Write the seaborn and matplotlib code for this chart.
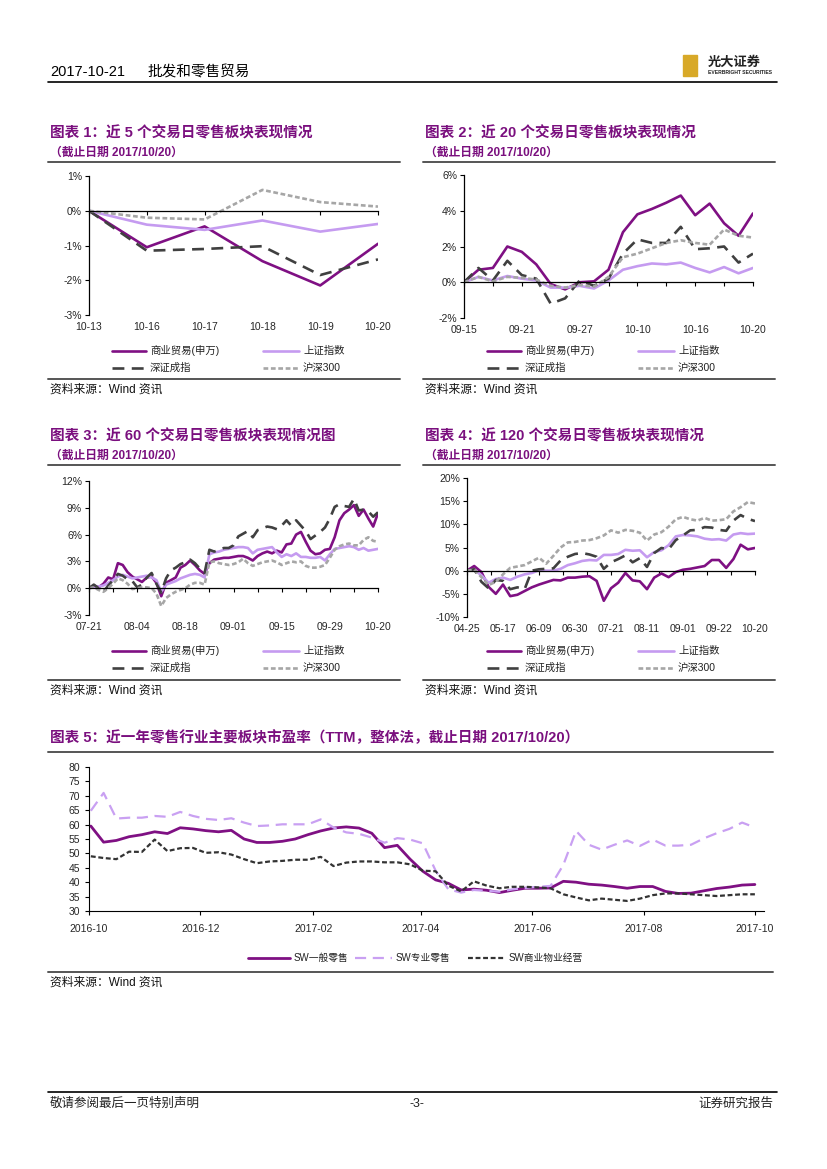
import numpy as np
import pandas as pd
import matplotlib
matplotlib.use('Agg')
import matplotlib.pyplot as plt
import seaborn as sns
from matplotlib.lines import Line2D
from matplotlib.patches import Rectangle

# ---------------- data ----------------
NAMES = ['商业贸易(申万)', '上证指数', '深证成指', '沪深300']

# chart 1: last 5 trading days
c1_dates = ['10-13', '10-16', '10-17', '10-18', '10-19', '10-20']
c1_trade = [0.0, -1.05, -0.45, -1.45, -2.15, -0.95]
c1_sh = [0.0, -0.40, -0.55, -0.28, -0.60, -0.38]
c1_sz = [0.0, -1.15, -1.10, -1.02, -1.85, -1.40]
c1_hs300 = [0.0, -0.20, -0.25, 0.60, 0.25, 0.12]
c1_yticks = [-3, -2, -1, 0, 1]

# chart 2: last 20 trading days
c2_dates = ['09-15', '09-18', '09-19', '09-20', '09-21', '09-22', '09-25', '09-26',
            '09-27', '09-28', '09-29', '10-09', '10-10', '10-11', '10-12', '10-13',
            '10-16', '10-17', '10-18', '10-19', '10-20']
c2_trade = [0.0, 0.7, 0.8, 2.0, 1.7, 1.0, -0.1, -0.4, 0.0, 0.05, 0.7, 2.8, 3.8,
            4.1, 4.45, 4.85, 3.75, 4.4, 3.3, 2.6, 3.85]
c2_sh = [0.0, 0.3, 0.1, 0.35, 0.2, 0.1, -0.3, -0.3, -0.2, -0.35, 0.1, 0.7, 0.9,
         1.05, 1.0, 1.1, 0.8, 0.55, 0.85, 0.5, 0.8]
c2_sz = [0.0, 0.8, 0.1, 1.2, 0.4, 0.2, -1.2, -0.9, 0.1, -0.2, 0.2, 1.6, 2.4,
         2.2, 2.2, 3.1, 1.85, 1.9, 2.0, 1.1, 1.6]
c2_hs300 = [0.0, 0.3, 0.05, 0.3, 0.25, 0.15, -0.2, -0.3, -0.15, -0.25, 0.3, 1.4,
            1.6, 1.9, 2.2, 2.35, 2.2, 2.1, 2.95, 2.6, 2.5]
c2_yticks = [-2, 0, 2, 4, 6]

# chart 3: last 60 trading days (index 0 = 07-21)
c3_day = list(range(61))
c3_labels = ['07-21', '08-04', '08-18', '09-01', '09-15', '09-29', '10-20']
c3_label_day = [0, 10, 20, 30, 40, 50, 60]
c3_trade = [0.0, 0.3, 0.1, 0.5, 1.2, 1.0, 2.8, 2.6, 1.8, 1.3, 1.0, 0.7, 1.2, 1.3,
            0.6, -0.9, 0.6, 0.9, 1.2, 2.3, 2.6, 3.1, 2.6, 2.0, 1.6, 2.8, 3.2, 3.3,
            3.4, 3.4, 3.5, 3.6, 3.6, 3.4, 3.1, 3.6, 3.9, 4.1, 3.9, 4.2, 4.0, 4.9,
            5.0, 6.0, 6.3, 5.2, 4.2, 3.8, 3.9, 4.3, 4.4, 5.7, 7.6, 8.4, 8.8, 9.3,
            8.1, 8.8, 7.8, 6.9, 8.4]
c3_sh = [0.0, 0.1, 0.2, 0.3, 0.6, 0.9, 1.3, 1.5, 1.3, 1.1, 1.2, 1.3, 1.4, 1.2,
         0.9, -0.4, 0.4, 0.6, 0.8, 1.1, 1.3, 1.5, 1.6, 1.5, 1.2, 3.8, 4.0, 4.1,
         4.3, 4.4, 4.5, 4.6, 4.6, 4.5, 3.9, 4.3, 4.4, 4.5, 4.6, 4.0, 3.5, 3.8,
         3.6, 3.9, 3.5, 3.5, 3.4, 3.4, 3.5, 3.1, 3.8, 4.4, 4.5, 4.6, 4.7, 4.6,
         4.3, 4.5, 4.2, 4.3, 4.4]
c3_sz = [0.0, 0.4, 0.0, -0.4, 0.3, 0.9, 1.6, 1.4, 1.0, 0.8, 0.1, 0.4, 1.2, 1.7,
         0.5, -0.5, 1.1, 2.0, 2.3, 2.7, 2.9, 3.2, 2.8, 2.2, 1.7, 4.3, 4.1, 4.3,
         4.5, 4.5, 4.8, 5.8, 6.1, 6.4, 5.7, 6.5, 6.7, 6.9, 6.8, 6.6, 7.0, 7.6,
         7.0, 7.6, 7.0, 6.4, 5.5, 5.9, 6.3, 6.8, 7.8, 9.1, 9.4, 9.2, 9.1, 10.0,
         8.7, 8.8, 8.6, 8.0, 8.5]
c3_hs300 = [0.0, 0.1, -0.2, -0.4, 0.0, 0.5, 1.1, 0.9, 0.5, -0.1, 0.0, 0.1, 0.1,
            0.0, -0.6, -2.0, -1.1, -0.7, -0.4, -0.2, 0.0, 0.4, 0.6, 0.6, 0.4,
            2.9, 3.0, 2.8, 2.7, 2.6, 2.7, 2.9, 3.3, 2.8, 2.5, 2.7, 2.9, 3.0, 3.1,
            2.9, 2.6, 2.8, 3.0, 2.9, 3.0, 2.5, 2.3, 2.3, 2.4, 2.6, 3.4, 4.3, 4.7,
            4.9, 5.0, 4.8, 4.8, 5.4, 5.7, 5.3, 5.2]
c3_yticks = [-3, 0, 3, 6, 9, 12]

# chart 4: last 120 trading days, read every 3rd day (index 0 = 04-25)
c4_day = list(range(0, 121, 3))
c4_labels = ['04-25', '05-17', '06-09', '06-30', '07-21', '08-11', '09-01', '09-22', '10-20']
c4_label_day = [0, 15, 30, 45, 60, 75, 90, 105, 120]
c4_trade = [0.0, 1.0, -0.3, -3.5, -5.0, -3.0, -5.5, -5.2, -4.4, -3.6, -3.0, -2.5,
            -2.0, -2.1, -1.5, -1.5, -1.3, -1.2, -2.2, -6.5, -3.8, -2.6, -0.5,
            -2.1, -2.3, -4.0, -1.5, -0.6, -1.4, -0.3, 0.2, 0.4, 0.7, 1.0, 2.3,
            2.3, 0.6, 2.5, 5.6, 4.6, 4.9]
c4_sh = [0.0, 0.2, -1.0, -2.6, -1.8, -1.5, -2.0, -1.3, -0.8, -0.5, 0.1, 0.0, 0.0,
         0.4, 1.2, 1.6, 2.1, 2.3, 2.2, 3.4, 3.4, 3.6, 4.5, 4.3, 4.4, 2.9, 4.0,
         4.4, 5.5, 7.4, 7.7, 7.6, 7.4, 6.9, 6.7, 6.8, 6.5, 7.8, 8.1, 7.9, 8.0]
c4_sz = [0.0, 0.3, -2.4, -3.8, -2.0, -2.2, -4.0, -3.6, -4.0, 0.0, 0.3, 0.4, 0.5,
         2.2, 3.0, 3.6, 3.8, 3.5, 3.0, 0.4, 1.8, 2.5, 3.3, 1.8, 2.7, 0.8, 3.8,
         4.9, 4.6, 6.6, 7.6, 8.7, 8.8, 9.4, 9.3, 8.8, 8.6, 10.8, 12.0, 11.2, 10.7]
c4_hs300 = [0.0, 0.2, -1.4, -3.1, -2.4, -0.8, 0.6, 0.9, 1.2, 2.0, 2.8, 1.5, 3.2,
            5.0, 6.1, 6.2, 6.5, 6.6, 7.0, 7.6, 8.7, 8.2, 8.8, 8.6, 8.2, 6.5, 7.8,
            8.3, 9.5, 11.1, 11.6, 11.1, 10.8, 11.4, 10.8, 10.9, 11.1, 12.8, 13.7,
            14.8, 14.5]
c4_yticks = [-10, -5, 0, 5, 10, 15, 20]

# chart 5: weekly PE (TTM)
c5_dates = pd.date_range('2016-10-21', '2017-10-20', freq='W-FRI')
c5_general = [59.5, 53.9, 54.5, 55.8, 56.5, 57.5, 56.9, 58.9, 58.5, 57.9, 57.5,
              58.0, 55.0, 53.8, 53.8, 54.2, 55.0, 56.5, 57.8, 58.8, 59.2, 58.8,
              57.0, 52.0, 52.8, 48.0, 43.8, 40.8, 39.6, 37.3, 37.6, 37.2, 36.4,
              37.2, 37.9, 37.9, 38.0, 40.3, 40.0, 39.3, 39.0, 38.5, 37.9, 38.5,
              38.5, 36.8, 36.1, 36.2, 37.0, 37.8, 38.3, 39.0, 39.2]
c5_special = [64.8, 71.0, 62.1, 62.4, 62.4, 63.0, 62.7, 64.4, 63.0, 62.0, 61.6,
              62.2, 60.7, 59.5, 59.7, 60.1, 60.1, 60.1, 61.8, 59.0, 57.3, 56.8,
              55.5, 53.7, 55.3, 54.8, 53.5, 44.0, 37.5, 36.4, 37.3, 37.0, 36.7,
              37.5, 38.0, 38.4, 38.7, 46.0, 57.8, 53.0, 51.3, 53.0, 54.5, 52.6,
              54.8, 52.7, 52.7, 53.0, 55.2, 57.0, 58.5, 60.7, 59.0]
c5_property = [49.0, 48.4, 48.0, 50.6, 50.5, 54.8, 50.8, 51.8, 51.9, 50.2, 50.4,
               49.6, 48.0, 46.6, 47.2, 47.4, 47.8, 47.8, 48.8, 45.6, 46.8, 47.2,
               47.2, 46.9, 46.9, 46.2, 44.0, 43.8, 38.8, 36.8, 40.3, 38.8, 37.9,
               38.4, 38.4, 38.2, 37.9, 35.8, 34.7, 33.7, 34.3, 33.9, 33.5, 34.3,
               35.5, 36.1, 36.1, 35.8, 35.5, 35.2, 35.5, 35.8, 35.8]
c5_names = ['SW一般零售', 'SW专业零售', 'SW商业物业经营']
c5_ticks = pd.date_range('2016-10-20', periods=7, freq=pd.DateOffset(months=2))
c5_yticks = [30, 35, 40, 45, 50, 55, 60, 65, 70, 75, 80]

# ---------------- style ----------------
PURPLE = '#7F1083'
TITLE_PURPLE = '#7A0F7E'
STYLES = {
    '商业贸易(申万)': dict(color=PURPLE, lw=1.9, ls='-'),
    '上证指数': dict(color='#C59BF0', lw=1.9, ls='-'),
    '深证成指': dict(color='#404040', lw=1.9, ls=(0, (4.5, 2.8))),
    '沪深300': dict(color='#A6A6A6', lw=1.9, ls=(0, (1.8, 1.0))),
}
C5_STYLES = {
    'SW一般零售': dict(color=PURPLE, lw=2.0, ls='-'),
    'SW专业零售': dict(color='#C9A0F2', lw=1.6, ls=(0, (5, 3))),
    'SW商业物业经营': dict(color='#333333', lw=1.6, ls=(0, (2.2, 1.2))),
}

sns.set_theme(style='white')
plt.rcParams['font.family'] = ['Liberation Sans', 'Noto Sans CJK SC', 'DejaVu Sans']
plt.rcParams['axes.unicode_minus'] = False

W, H = 827, 1169
fig = plt.figure(figsize=(8.27, 11.69), dpi=100)


def fx(x):
    return x / W


def fy(y):
    return 1 - y / H


def rect(x0, y0, x1, y1):
    return [fx(x0), fy(y1), fx(x1) - fx(x0), fy(y0) - fy(y1)]


def hline(x0, x1, y, lw=1.0, color='black'):
    fig.add_artist(Line2D([fx(x0), fx(x1)], [fy(y), fy(y)], color=color, lw=lw,
                          transform=fig.transFigure))


def text(x, y, s, **kw):
    kw.setdefault('va', 'center')
    fig.text(fx(x), fy(y), s, **kw)


def legend_item(x0, x1, y, st, label, size=7.5):
    fig.add_artist(Line2D([fx(x0), fx(x1)], [fy(y), fy(y)], color=st['color'],
                          lw=st['lw'], linestyle=st['ls'], transform=fig.transFigure))
    text(x1 + 4, y, label, fontsize=size, color='#222222')


def perf_panel(box, xs, series, yticks, mark_pos, label_pos, labels):
    ax = fig.add_axes(box)
    for name, vals in zip(NAMES, series):
        st = STYLES[name]
        sns.lineplot(x=xs, y=vals, ax=ax, color=st['color'], lw=st['lw'],
                     linestyle=st['ls'], legend=False)
    ax.set_xlim(xs[0], xs[-1])
    ax.set_ylim(yticks[0], yticks[-1])
    ax.set_yticks(yticks)
    ax.set_yticklabels([f'{v}%' for v in yticks])
    ax.tick_params(axis='y', direction='out', length=3, width=0.8, labelsize=7.5,
                   pad=2, left=True, color='black')
    for s in ['top', 'right']:
        ax.spines[s].set_visible(False)
    ax.spines['left'].set_color('black')
    ax.spines['left'].set_linewidth(0.9)
    ax.spines['bottom'].set_position(('data', 0))
    ax.spines['bottom'].set_color('black')
    ax.spines['bottom'].set_linewidth(0.9)
    ax.set_xticks(mark_pos)
    ax.tick_params(axis='x', direction='out', length=3, width=0.8, bottom=True,
                   labelbottom=False, color='black')
    sec = ax.secondary_xaxis('bottom')
    sec.set_xticks(label_pos, labels)
    sec.tick_params(length=0, labelsize=7.5, pad=5)
    sec.spines['bottom'].set_visible(False)
    ax.set_xlabel('')
    ax.set_ylabel('')
    return ax


def panel_frame(x0, x1, top, title, sub, leg_y, rule_y, right):
    text(x0 + 2, top, title, fontsize=10.5, fontweight='bold', color=TITLE_PURPLE)
    text(x0 + 2, top + 20, sub, fontsize=8.5, fontweight='bold', color=TITLE_PURPLE)
    hline(x0, right, top + 29, lw=1.4, color='#555555')
    legend_item(x0 + 64, x0 + 98, leg_y, STYLES[NAMES[0]], NAMES[0])
    legend_item(x0 + 215, x0 + 251, leg_y, STYLES[NAMES[1]], NAMES[1])
    legend_item(x0 + 64, x0 + 98, leg_y + 17, STYLES[NAMES[2]], NAMES[2])
    legend_item(x0 + 215, x0 + 251, leg_y + 17, STYLES[NAMES[3]], NAMES[3])
    hline(x0, right, rule_y, lw=1.4, color='#555555')
    text(x0 + 2, rule_y + 11, '资料来源：Wind 资讯', fontsize=8.5, color='#111111')


# ---------------- header ----------------
text(50, 72, '2017-10-21', fontsize=10.5, color='black')
text(148, 72, '批发和零售贸易', fontsize=10.5, color='black')
hline(48, 777, 82, lw=1.2)
fig.add_artist(Rectangle((fx(683), fy(76)), fx(697) - fx(683), fy(55) - fy(76),
                         transform=fig.transFigure, color='#D8A928'))
text(708, 63, '光大证券', fontsize=9.5, fontweight='bold', color='#222222')
text(708, 73, 'EVERBRIGHT SECURITIES', fontsize=3.6, fontweight='bold', color='#222222')

# ---------------- chart 1 ----------------
panel_frame(48, 397, 133, '图表 1：近 5 个交易日零售板块表现情况', '（截止日期 2017/10/20）',
            351, 379, 400)
c1_idx = list(range(len(c1_dates)))
perf_panel(rect(89, 176, 378, 315), c1_idx, [c1_trade, c1_sh, c1_sz, c1_hs300],
           c1_yticks, c1_idx, c1_idx, c1_dates)

# ---------------- chart 2 ----------------
panel_frame(423, 773, 133, '图表 2：近 20 个交易日零售板块表现情况', '（截止日期 2017/10/20）',
            351, 379, 775)
c2_idx = list(range(len(c2_dates)))
perf_panel(rect(464, 175, 753, 318), c2_idx, [c2_trade, c2_sh, c2_sz, c2_hs300],
           c2_yticks, c2_idx[::2], c2_idx[::4], c2_dates[::4])

# ---------------- chart 3 ----------------
panel_frame(48, 397, 436, '图表 3：近 60 个交易日零售板块表现情况图', '（截止日期 2017/10/20）',
            651, 680, 400)
perf_panel(rect(89, 481, 378, 615), c3_day, [c3_trade, c3_sh, c3_sz, c3_hs300],
           c3_yticks, c3_day[::5], c3_label_day, c3_labels)

# ---------------- chart 4 ----------------
panel_frame(423, 773, 436, '图表 4：近 120 个交易日零售板块表现情况', '（截止日期 2017/10/20）',
            651, 680, 775)
perf_panel(rect(467, 478, 755, 617), c4_day, [c4_trade, c4_sh, c4_sz, c4_hs300],
           c4_yticks, list(range(0, 121, 10)), c4_label_day, c4_labels)

# ---------------- chart 5 ----------------
text(50, 738, '图表 5：近一年零售行业主要板块市盈率（TTM，整体法，截止日期 2017/10/20）',
     fontsize=10.5, fontweight='bold', color=TITLE_PURPLE)
hline(48, 773, 752, lw=1.4, color='#555555')
ax5 = fig.add_axes(rect(89, 767, 764, 911))
for name, vals in zip(c5_names, [c5_general, c5_special, c5_property]):
    st = C5_STYLES[name]
    sns.lineplot(x=c5_dates, y=vals, ax=ax5, color=st['color'], lw=st['lw'],
                 linestyle=st['ls'], legend=False)
ax5.set_xlim(pd.Timestamp('2016-10-20'), pd.Timestamp('2017-10-25'))
ax5.set_ylim(30, 80)
ax5.set_yticks(c5_yticks)
ax5.set_xticks(c5_ticks)
ax5.set_xticklabels([d.strftime('%Y-%m') for d in c5_ticks])
ax5.tick_params(axis='both', direction='out', length=3, width=0.8, labelsize=7.5,
                color='black', left=True, bottom=True)
ax5.tick_params(axis='x', pad=6)
for s in ['top', 'right']:
    ax5.spines[s].set_visible(False)
for s in ['left', 'bottom']:
    ax5.spines[s].set_color('black')
    ax5.spines[s].set_linewidth(0.8)
ax5.set_xlabel('')
ax5.set_ylabel('')

legend_item(248, 290, 958, C5_STYLES['SW一般零售'], 'SW一般零售', size=7)
legend_item(355, 392, 958, C5_STYLES['SW专业零售'], 'SW专业零售', size=7)
legend_item(468, 505, 958, C5_STYLES['SW商业物业经营'], 'SW商业物业经营', size=7)
hline(48, 773, 972, lw=1.4, color='#555555')
text(50, 983, '资料来源：Wind 资讯', fontsize=8.5, color='#111111')

# ---------------- footer ----------------
hline(48, 777, 1092, lw=1.2)
text(50, 1104, '敬请参阅最后一页特别声明', fontsize=9, color='#222222')
text(417, 1104, '-3-', fontsize=9, color='#222222', ha='center')
text(773, 1104, '证券研究报告', fontsize=9, color='#222222', ha='right')

fig.savefig('out.png', dpi=100)
